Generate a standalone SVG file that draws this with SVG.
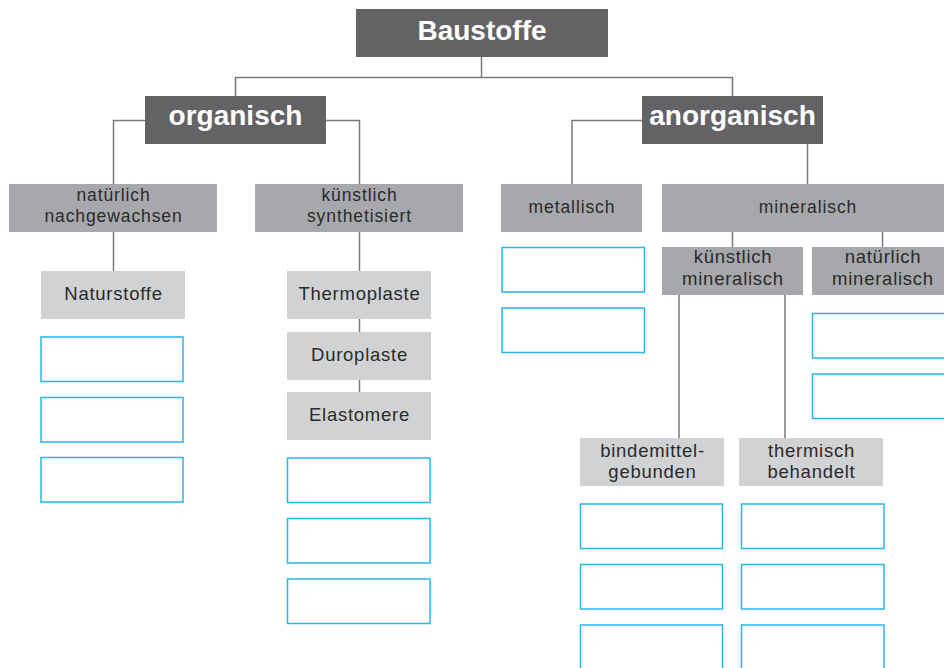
<svg xmlns="http://www.w3.org/2000/svg" width="944" height="668" viewBox="0 0 944 668">
<style>
.dark{fill:#636365}
.mid{fill:#a7a8ab}
.light{fill:#d1d2d4}
.blank{fill:#ffffff;stroke:#2ab5e9;stroke-width:1.5}
.t1{font-family:"Liberation Sans",Arial,sans-serif;font-weight:bold;font-size:28px;fill:#ffffff;text-anchor:middle}
.t2{font-family:"Liberation Sans",Arial,sans-serif;font-size:17.5px;letter-spacing:0.9px;fill:#2a2a2a;text-anchor:middle}
.t3{font-family:"Liberation Sans",Arial,sans-serif;font-size:18.5px;letter-spacing:0.75px;fill:#2a2a2a;text-anchor:middle}
.conn{fill:none;stroke:#7a7a7a;stroke-width:1.5}
</style>
<rect width="944" height="668" fill="#ffffff"/>
<g id="connectors" class="conn">
<path d="M481.5 57 V77.5"/>
<path d="M235.5 96 V77.5 H732.5 V96"/>
<path d="M145 120.5 H113.5 V184"/>
<path d="M326 120.5 H359.5 V184"/>
<path d="M113.5 232 V271"/>
<path d="M359.5 232 V271"/>
<path d="M359.5 319 V332"/>
<path d="M359.5 380 V392"/>
<path d="M642 120.5 H572 V184"/>
<path d="M807.5 144 V184"/>
<path d="M732.5 232 V247"/>
<path d="M882.5 232 V247"/>
<path d="M679 295 V438"/>
<path d="M785 295 V438"/>
</g>
<g id="baustoffe"><rect class="dark" x="356" y="9" width="252" height="48"/><text class="t1" x="482" y="40">Baustoffe</text></g>
<g id="organisch"><rect class="dark" x="145" y="96" width="181" height="48"/><text class="t1" x="235.5" y="125">organisch</text></g>
<g id="anorganisch"><rect class="dark" x="642" y="96" width="181" height="48"/><text class="t1" x="732.5" y="125">anorganisch</text></g>
<g id="natuerlich-nachgewachsen"><rect class="mid" x="9" y="184" width="208" height="48"/><text class="t2" x="113.5" y="200.8">natürlich</text><text class="t2" x="113.5" y="221.8">nachgewachsen</text></g>
<g id="kuenstlich-synthetisiert"><rect class="mid" x="255" y="184" width="208" height="48"/><text class="t2" x="359.5" y="200.8">künstlich</text><text class="t2" x="359.5" y="221.8">synthetisiert</text></g>
<g id="metallisch"><rect class="mid" x="501" y="184" width="141" height="48"/><text class="t2" x="572" y="212.5">metallisch</text></g>
<g id="mineralisch"><rect class="mid" x="662" y="184" width="292" height="48"/><text class="t2" x="808" y="212.5">mineralisch</text></g>
<g id="kuenstlich-mineralisch"><rect class="mid" x="662" y="247" width="141" height="48"/><text class="t3" x="733" y="263">künstlich</text><text class="t3" x="733" y="285.3">mineralisch</text></g>
<g id="natuerlich-mineralisch"><rect class="mid" x="812" y="247" width="142" height="48"/><text class="t3" x="883" y="263">natürlich</text><text class="t3" x="883" y="285.3">mineralisch</text></g>
<g id="naturstoffe"><rect class="light" x="41" y="271" width="144" height="48"/><text class="t3" x="113.5" y="299.5">Naturstoffe</text></g>
<g id="thermoplaste"><rect class="light" x="287" y="271" width="144" height="48"/><text class="t3" x="359.5" y="299.5">Thermoplaste</text></g>
<g id="duroplaste"><rect class="light" x="287" y="332" width="144" height="48"/><text class="t3" x="359.5" y="360.5">Duroplaste</text></g>
<g id="elastomere"><rect class="light" x="287" y="392" width="144" height="48"/><text class="t3" x="359.5" y="420.5">Elastomere</text></g>
<g id="bindemittelgebunden"><rect class="light" x="580" y="438" width="144" height="48"/><text class="t3" x="652.5" y="457">bindemittel-</text><text class="t3" x="652.5" y="478.3">gebunden</text></g>
<g id="thermisch-behandelt"><rect class="light" x="739" y="438" width="144" height="48"/><text class="t3" x="811.5" y="456.5">thermisch</text><text class="t3" x="811.5" y="477.8">behandelt</text></g>
<g id="blank-natur-1"><rect class="blank" x="41" y="337" width="142" height="44.5"/></g>
<g id="blank-natur-2"><rect class="blank" x="41" y="397.5" width="142" height="44.5"/></g>
<g id="blank-natur-3"><rect class="blank" x="41" y="457.5" width="142" height="44.5"/></g>
<g id="blank-synth-1"><rect class="blank" x="287.5" y="458" width="142.5" height="44.5"/></g>
<g id="blank-synth-2"><rect class="blank" x="287.5" y="518.5" width="142.5" height="44.5"/></g>
<g id="blank-synth-3"><rect class="blank" x="287.5" y="579" width="142.5" height="44.5"/></g>
<g id="blank-metall-1"><rect class="blank" x="502" y="247.5" width="142.5" height="44.5"/></g>
<g id="blank-metall-2"><rect class="blank" x="502" y="308" width="142.5" height="44.5"/></g>
<g id="blank-natmin-1"><rect class="blank" x="812.5" y="313.5" width="143" height="44.5"/></g>
<g id="blank-natmin-2"><rect class="blank" x="812.5" y="374" width="143" height="44.5"/></g>
<g id="blank-binde-1"><rect class="blank" x="580.5" y="504" width="142" height="44.5"/></g>
<g id="blank-binde-2"><rect class="blank" x="580.5" y="564.5" width="142" height="44.5"/></g>
<g id="blank-binde-3"><rect class="blank" x="580.5" y="625" width="142" height="46"/></g>
<g id="blank-therm-1"><rect class="blank" x="741.5" y="504" width="142.5" height="44.5"/></g>
<g id="blank-therm-2"><rect class="blank" x="741.5" y="564.5" width="142.5" height="44.5"/></g>
<g id="blank-therm-3"><rect class="blank" x="741.5" y="625" width="142.5" height="46"/></g>
</svg>
